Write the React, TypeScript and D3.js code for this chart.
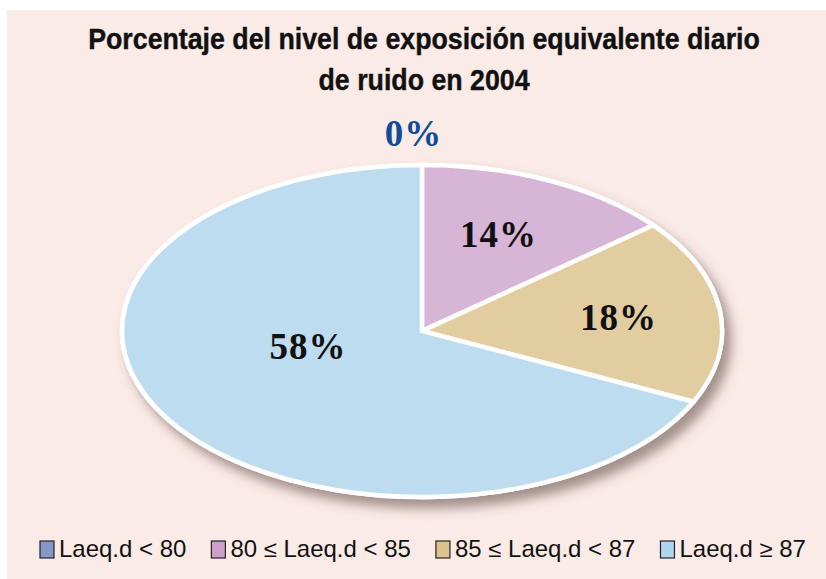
import React, { useEffect, useRef } from 'react';
import * as d3 from 'd3';

const titleLines = ['Porcentaje del nivel de exposición equivalente diario', 'de ruido en 2004'];
const categories = ['Laeq.d < 80', '80 ≤ Laeq.d < 85', '85 ≤ Laeq.d < 87', 'Laeq.d ≥ 87'];
// slice sizes as drawn in the picture (the last slice is drawn larger than its printed label)
const sliceValues = [0, 14, 18, 68];
const sliceLabels = ['0%', '14%', '18%', '58%'];
const sliceColors = ['#7f94c6', '#d7b5d6', '#e1cda0', '#bedcef'];
const legendColors = ['#8497c6', '#cda0cb', '#dcc48e', '#acd6ee'];
const labelColors = ['#0f4c99', '#111', '#111', '#111'];

function App() {
    const svgRef = useRef<SVGSVGElement>(null);

    useEffect(() => {
        const svg = d3.select(svgRef.current);
        svg.selectAll('*').remove();

        const width = 826;
        const height = 579;
        const cx = 422;
        const cy = 331;
        const rx = 300;
        const ry = 166;
        const sansFont = '"Liberation Sans", Arimo, "DejaVu Sans", sans-serif';

        const defs = svg.append('defs');
        const filter = defs.append('filter').attr('id', 'shadow')
            .attr('x', '-20%').attr('y', '-20%').attr('width', '140%').attr('height', '150%');
        filter.append('feDropShadow')
            .attr('dx', 7).attr('dy', 9).attr('stdDeviation', 6)
            .attr('flood-color', '#5a4440').attr('flood-opacity', 0.55);

        // background panel
        svg.append('rect')
            .attr('x', 7).attr('y', 10)
            .attr('width', width - 7).attr('height', height - 10)
            .attr('fill', '#fbebe7');

        // title: a tall narrow face, so squeeze a regular bold horizontally
        const titleRows = svg.append('g').selectAll('g')
            .data(titleLines)
            .enter()
            .append('g');
        const titleTexts = titleRows.append('text')
            .attr('text-anchor', 'middle')
            .attr('font-family', sansFont)
            .attr('font-weight', 'bold')
            .attr('font-size', 30)
            .attr('fill', '#111')
            .attr('stroke', '#111')
            .attr('stroke-width', 0.4)
            .text(d => d);
        const firstW = (titleTexts.node() as SVGTextElement).getComputedTextLength();
        const tk = 672 / firstW;
        titleRows.attr('transform', (d, i) => `translate(424,${49 + i * 41}) scale(${tk},1)`);

        // pie drawn on a unit circle, then stretched into an ellipse
        const pie = d3.pie<number>().sort(null).value(d => d).startAngle(0).endAngle(2 * Math.PI);
        const arcs = pie(sliceValues);
        const arc = d3.arc<d3.PieArcDatum<number>>().innerRadius(0).outerRadius(1);

        const pieG = svg.append('g')
            .attr('transform', `translate(${cx},${cy})`)
            .attr('filter', 'url(#shadow)');
        const scaled = pieG.append('g').attr('transform', `scale(${rx},${ry})`);
        scaled.append('ellipse')
            .attr('rx', 1).attr('ry', 1)
            .attr('fill', '#fff')
            .attr('stroke', '#fff')
            .attr('stroke-width', 4.5)
            .attr('vector-effect', 'non-scaling-stroke');
        scaled.selectAll('path')
            .data(arcs.filter(d => d.value > 0))
            .enter()
            .append('path')
            .attr('d', arc)
            .attr('fill', d => sliceColors[d.index])
            .attr('stroke', '#fff')
            .attr('stroke-width', 4.5)
            .attr('stroke-linejoin', 'miter')
            .attr('vector-effect', 'non-scaling-stroke');

        // slice labels
        const labelPos = (d: d3.PieArcDatum<number>) => {
            let r = 0.64;
            let a = (d.startAngle + d.endAngle) / 2;
            if (d.value === 0) { r = 1.19; a = -0.024; }
            if (d.index === 1) { a -= 0.03; }
            if (d.index === 2) { r = 0.66; }
            if (d.index === 3) { r = 0.39; a = (257 * Math.PI) / 180; }
            return [Math.sin(a) * r * rx, -Math.cos(a) * r * ry];
        };
        svg.append('g')
            .attr('transform', `translate(${cx},${cy})`)
            .selectAll('text')
            .data(arcs)
            .enter()
            .append('text')
            .attr('x', d => labelPos(d)[0])
            .attr('y', d => labelPos(d)[1])
            .attr('dy', '0.35em')
            .attr('text-anchor', 'middle')
            .attr('font-family', '"Liberation Serif", "DejaVu Serif", serif')
            .attr('font-weight', 'bold')
            .attr('font-size', 37)
            .attr('letter-spacing', 1)
            .attr('fill', (d, i) => labelColors[i])
            .text((d, i) => sliceLabels[i]);

        // legend
        const items = svg.append('g').selectAll('g')
            .data(categories)
            .enter()
            .append('g');
        items.append('rect')
            .attr('x', 0).attr('y', -16)
            .attr('width', 14).attr('height', 17)
            .attr('fill', (d, i) => legendColors[i])
            .attr('stroke', '#222')
            .attr('stroke-width', 1.2);
        const textGs = items.append('g');
        const texts = textGs.append('text')
            .attr('font-family', sansFont)
            .attr('font-size', 23)
            .attr('fill', '#111')
            .text(d => d);

        const boxW = 19;
        const gap = 25;
        const widths: number[] = [];
        texts.each(function () { widths.push((this as SVGTextElement).getComputedTextLength()); });
        const targetTotal = 766;
        const lk = (targetTotal - categories.length * boxW - gap * (categories.length - 1)) / d3.sum(widths);
        textGs.attr('transform', `translate(${boxW},0) scale(${lk},1)`);
        let x = 40;
        items.attr('transform', (d, i) => {
            const t = `translate(${x},557)`;
            x += boxW + widths[i] * lk + gap;
            return t;
        });
    }, []);

    return (
        <svg ref={svgRef} width={826} height={579} style={{ position: 'absolute', left: 0, top: 0 }} />
    );
}

export default App;
